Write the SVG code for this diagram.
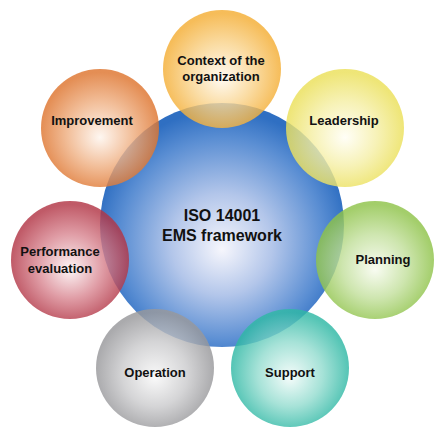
<svg xmlns="http://www.w3.org/2000/svg" width="445" height="436" viewBox="0 0 445 436">
<defs>
<radialGradient id="gBlue" cx="50%" cy="55%" r="52%" fx="50%" fy="60%"><stop offset="0" stop-color="#f6f6fc"/><stop offset="0.4" stop-color="#b3c6ea"/><stop offset="0.8" stop-color="#5a8ed3"/><stop offset="1" stop-color="#2f6fc2"/></radialGradient>
<radialGradient id="gCtx" cx="50%" cy="53%" r="50%" fy="58%"><stop offset="0" stop-color="#fffaf0"/><stop offset="0.55" stop-color="#f9d38c"/><stop offset="1" stop-color="#f4ae35"/></radialGradient>
<radialGradient id="gLead" cx="50%" cy="53%" r="50%" fy="58%"><stop offset="0" stop-color="#fffef5"/><stop offset="0.55" stop-color="#f5efa6"/><stop offset="1" stop-color="#ebe05a"/></radialGradient>
<radialGradient id="gPlan" cx="50%" cy="53%" r="50%" fy="58%"><stop offset="0" stop-color="#f7fbef"/><stop offset="0.55" stop-color="#c3e09d"/><stop offset="1" stop-color="#8fc34a"/></radialGradient>
<radialGradient id="gSup" cx="50%" cy="53%" r="50%" fy="58%"><stop offset="0" stop-color="#f2fbf9"/><stop offset="0.55" stop-color="#93dccf"/><stop offset="1" stop-color="#2fb8a5"/></radialGradient>
<radialGradient id="gOp" cx="50%" cy="53%" r="50%" fy="58%"><stop offset="0" stop-color="#f8f8f8"/><stop offset="0.55" stop-color="#cbcbcd"/><stop offset="1" stop-color="#98989b"/></radialGradient>
<radialGradient id="gPerf" cx="50%" cy="53%" r="50%" fy="58%"><stop offset="0" stop-color="#fcf2f3"/><stop offset="0.55" stop-color="#d98792"/><stop offset="1" stop-color="#b23646"/></radialGradient>
<radialGradient id="gImp" cx="50%" cy="53%" r="50%" fy="58%"><stop offset="0" stop-color="#fef5ee"/><stop offset="0.55" stop-color="#efb083"/><stop offset="1" stop-color="#de752f"/></radialGradient>
</defs>
<style>
.sat{opacity:0.82}
text{font-family:"Liberation Sans",Arial,sans-serif;font-weight:bold;fill:#111;text-anchor:middle}
.lbl{font-size:13px}
.big{font-size:16px}
</style>
<rect width="445" height="436" fill="#ffffff"/>
<g id="center">
<circle cx="222" cy="225" r="122" fill="url(#gBlue)"/>
<text class="big" x="222" y="221">ISO 14001</text>
<text class="big" x="222" y="241">EMS framework</text>
</g>
<g id="context">
<circle class="sat" cx="222" cy="69" r="59" fill="url(#gCtx)"/>
<text class="lbl" x="221" y="65">Context of the</text>
<text class="lbl" x="221" y="81">organization</text>
</g>
<g id="leadership">
<circle class="sat" cx="345" cy="128" r="59" fill="url(#gLead)"/>
<text class="lbl" x="344" y="125">Leadership</text>
</g>
<g id="planning">
<circle class="sat" cx="375" cy="260" r="59" fill="url(#gPlan)"/>
<text class="lbl" x="383" y="264">Planning</text>
</g>
<g id="support">
<circle class="sat" cx="290" cy="368" r="59" fill="url(#gSup)"/>
<text class="lbl" x="290" y="377">Support</text>
</g>
<g id="operation">
<circle class="sat" cx="155" cy="368" r="59" fill="url(#gOp)"/>
<text class="lbl" x="155" y="377">Operation</text>
</g>
<g id="performance">
<circle class="sat" cx="70" cy="260" r="59" fill="url(#gPerf)"/>
<text class="lbl" x="60" y="256">Performance</text>
<text class="lbl" x="60" y="273">evaluation</text>
</g>
<g id="improvement">
<circle class="sat" cx="100" cy="128" r="59" fill="url(#gImp)"/>
<text class="lbl" x="92" y="125">Improvement</text>
</g>
</svg>
